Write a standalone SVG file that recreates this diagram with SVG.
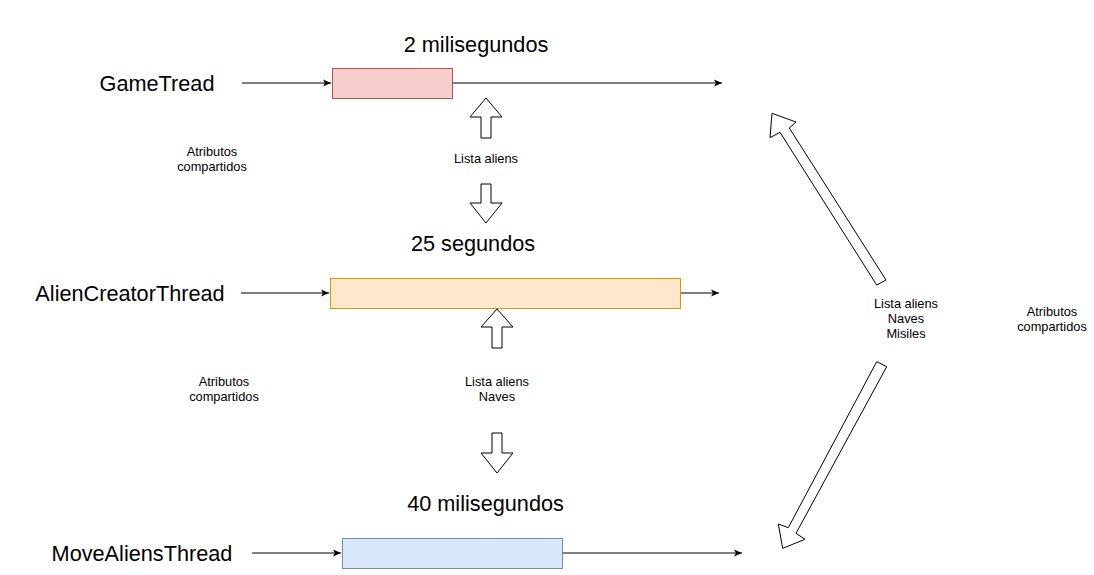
<svg xmlns="http://www.w3.org/2000/svg" width="1094" height="575" viewBox="0 0 1094 575">
<style>
text{font-family:"Liberation Sans",Arial,sans-serif;fill:#000;text-anchor:middle}
.big{font-size:21.7px}
.sm{font-size:12.8px}
.ln{stroke:#000;stroke-width:1;fill:none}
.blk{fill:#fff;stroke:#000;stroke-width:1;stroke-linejoin:miter}
</style>
<defs>
<marker id="arr" markerUnits="userSpaceOnUse" markerWidth="10" markerHeight="10" viewBox="0 0 10 10" refX="9" refY="5" orient="auto">
<path d="M1,1.5 L9,5 L1,8.5 L3,5 Z" fill="#000"/>
</marker>
</defs>
<rect width="1094" height="575" fill="#fff"/>
<g id="connectors">
<line class="ln" x1="242" y1="83" x2="331" y2="83" marker-end="url(#arr)"/>
<line class="ln" x1="453" y1="83" x2="722" y2="83" marker-end="url(#arr)"/>
<line class="ln" x1="241" y1="293" x2="329" y2="293" marker-end="url(#arr)"/>
<line class="ln" x1="680" y1="293" x2="719" y2="293" marker-end="url(#arr)"/>
<line class="ln" x1="252" y1="553" x2="341" y2="553" marker-end="url(#arr)"/>
<line class="ln" x1="562" y1="553" x2="742" y2="553" marker-end="url(#arr)"/>
</g>
<g id="game-thread">
<text class="big" x="157" y="91">GameTread</text>
<text class="big" x="476" y="52">2 milisegundos</text>
<rect x="332.5" y="68.5" width="120" height="30" fill="#f8cecc" stroke="#b85450"/>
</g>
<g id="alien-creator-thread">
<text class="big" x="130" y="301">AlienCreatorThread</text>
<text class="big" x="473" y="251">25 segundos</text>
<rect x="330.5" y="278.5" width="350" height="30" fill="#ffe6cc" stroke="#d79b00"/>
</g>
<g id="move-aliens-thread">
<text class="big" x="142" y="561">MoveAliensThread</text>
<text class="big" x="485.5" y="511">40 milisegundos</text>
<rect x="342.5" y="538.5" width="220" height="30" fill="#dae8fc" stroke="#6c8ebf"/>
</g>
<g id="shared-top">
<polygon class="blk" points="486,98 502,117 491,117 491,138 481,138 481,117 470,117"/>
<text class="sm" x="486" y="162.5">Lista aliens</text>
<polygon class="blk" points="481,184 491,184 491,203 502,203 486,223 470,203 481,203"/>
<text class="sm" x="212" y="155.5">Atributos</text>
<text class="sm" x="212" y="170.5">compartidos</text>
</g>
<g id="shared-middle">
<polygon class="blk" points="497,309 513,327 502,327 502,348 492,348 492,327 481,327"/>
<text class="sm" x="497" y="385.5">Lista aliens</text>
<text class="sm" x="497" y="400.5">Naves</text>
<polygon class="blk" points="492,433 502,433 502,453 513,453 497,473 481,453 492,453"/>
<text class="sm" x="224" y="385.5">Atributos</text>
<text class="sm" x="224" y="400.5">compartidos</text>
</g>
<g id="shared-right">
<polygon class="blk" points="876.7,285 886,280 789.3,128 796,122 772,113.3 770,137.7 780,132.3"/>
<polygon class="blk" points="876.7,361.7 886.7,366.7 796,533.3 805,539.3 782.7,548.3 778.3,524 788.3,527.7"/>
<text class="sm" x="906" y="307.5">Lista aliens</text>
<text class="sm" x="906" y="322.5">Naves</text>
<text class="sm" x="906" y="337.5">Misiles</text>
<text class="sm" x="1052" y="315.5">Atributos</text>
<text class="sm" x="1052" y="330.5">compartidos</text>
</g>
</svg>
